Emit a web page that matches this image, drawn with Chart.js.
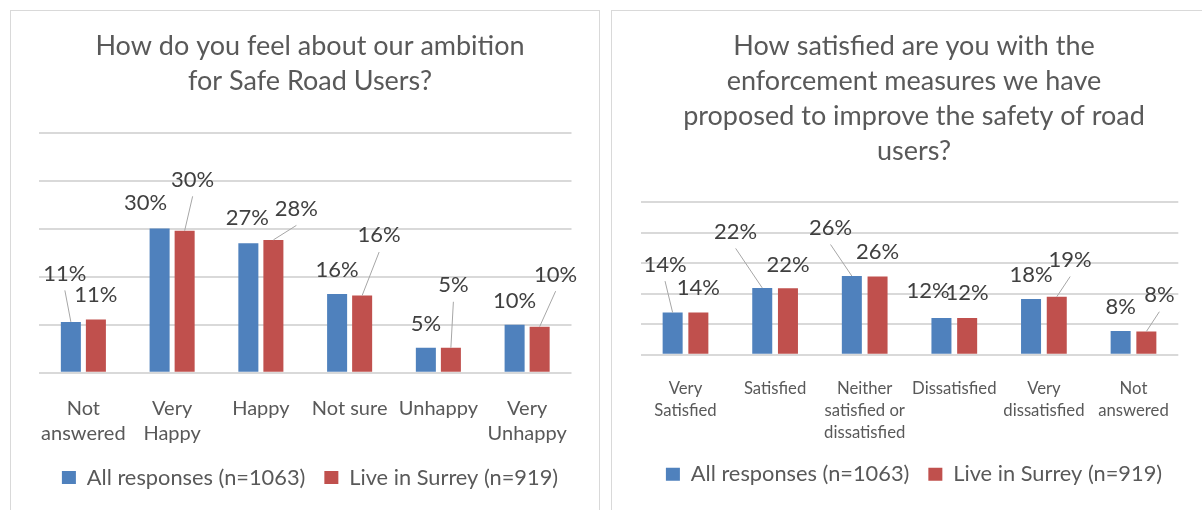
<!DOCTYPE html>
<html>
<head>
<meta charset="utf-8">
<script src="https://cdn.jsdelivr.net/npm/chart.js@4.4.1/dist/chart.umd.min.js"></script>
<style>
  html, body { margin: 0; padding: 0; background: #fff; overflow: hidden; width: 1202px; height: 510px; }
  .panel { position: absolute; top: 10px; border: 1px solid #d9d9d9; background: #fff; }
  #p1 { left: 10px; width: 588px; height: 540px; }
  #p2 { left: 611px; width: 600px; height: 540px; }
  canvas { position: absolute; left: 0; top: 0; }
</style>
</head>
<body>
<div class="panel" id="p1"><canvas id="c1" width="588" height="520"></canvas></div>
<div class="panel" id="p2"><canvas id="c2" width="590" height="520"></canvas></div>
<script>
var seriesNames = ['All responses (n=1063)', 'Live in Surrey (n=919)'];

var ambitionTitle = ['How do you feel about our ambition', 'for Safe Road Users?'];
var ambitionCats = [['Not', 'answered'], ['Very', 'Happy'], 'Happy', 'Not sure', 'Unhappy', ['Very', 'Unhappy']];
var ambitionAll = [10.6, 30.1, 27.0, 16.4, 5.2, 10.0];
var ambitionSurrey = [11.1, 29.6, 27.7, 16.1, 5.2, 9.6];

var enforceTitle = ['How satisfied are you with the', 'enforcement measures we have', 'proposed to improve the safety of road', 'users?'];
var enforceCats = [['Very', 'Satisfied'], 'Satisfied', ['Neither', 'satisfied or', 'dissatisfied'], 'Dissatisfied', ['Very', 'dissatisfied'], ['Not', 'answered']];
var enforceAll = [13.8, 21.9, 25.8, 12.0, 18.3, 7.8];
var enforceSurrey = [13.8, 21.8, 25.6, 12.0, 19.0, 7.6];

// where each value label sits relative to the top of its bar: dx, dy, leader line
var ambitionLabelPos = [
    [[-6, -49, 1], [-14, -26, 0], [-1, -26, 0], [0, -25, 0], [0, -25, 0], [0, -25, 0]],
    [[0, -25, 0], [8, -52, 1], [23, -32, 1], [17, -61, 1], [2.5, -63.5, 1], [16, -53, 1]]
];
var enforceLabelPos = [
    [[-7.6, -49, 1], [-26.6, -57, 1], [-21.3, -49, 1], [-13.3, -27.7, 0], [0, -25, 0], [0, -25.3, 0]],
    [[0, -25.7, 0], [0, -24.6, 0], [0, -25.7, 0], [0, -25.7, 0], [13.4, -37.7, 1], [13, -37.3, 1]]
];

var blue = '#4f81bd';
var red = '#c0504d';
var textColor = '#595959';

function valueLabels(placement) {
    return {
        id: 'valueLabels',
        afterDatasetsDraw: function (chart) {
            var ctx = chart.ctx;
            ctx.save();
            ctx.font = '22px Lato';
            ctx.textAlign = 'center';
            ctx.textBaseline = 'alphabetic';
            chart.data.datasets.forEach(function (ds, di) {
                var meta = chart.getDatasetMeta(di);
                meta.data.forEach(function (bar, i) {
                    var p = placement[di][i];
                    var lx = bar.x + p[0];
                    var ly = bar.y + p[1];
                    if (p[2]) {
                        ctx.strokeStyle = '#a6a6a6';
                        ctx.lineWidth = 1;
                        ctx.beginPath();
                        ctx.moveTo(lx, ly + 17.5);
                        ctx.lineTo(bar.x, bar.y);
                        ctx.stroke();
                    }
                    ctx.fillStyle = '#404040';
                    ctx.fillText(Math.round(ds.data[i]) + '%', lx, ly + 7.9);
                });
            });
            ctx.restore();
        }
    };
}

function makeChart(id, title, cats, all, surrey, placement, lay) {
    var ctx = document.getElementById(id).getContext('2d');
    return new Chart(ctx, {
        type: 'bar',
        data: {
            labels: cats,
            datasets: [{
                label: seriesNames[0],
                backgroundColor: blue,
                data: all,
                categoryPercentage: lay.catPct,
                barPercentage: lay.barPct
            }, {
                label: seriesNames[1],
                backgroundColor: red,
                data: surrey,
                categoryPercentage: lay.catPct,
                barPercentage: lay.barPct
            }]
        },
        options: {
            responsive: false,
            animation: false,
            devicePixelRatio: 1,
            layout: {
                padding: { left: lay.padLeft, right: 0, top: 0, bottom: lay.bottom }
            },
            scales: {
                x: {
                    grid: { display: false },
                    border: { display: false },
                    ticks: {
                        color: textColor,
                        font: { family: 'Lato', size: lay.tickSize, lineHeight: lay.tickLine + 'px' },
                        padding: lay.tickPad,
                        maxRotation: 0,
                        autoSkip: false
                    },
                    afterFit: function (scale) { scale.height = lay.axisHeight; }
                },
                y: {
                    min: 0,
                    max: 50,
                    ticks: { display: false, stepSize: 10 },
                    grid: { color: '#d9d9d9', lineWidth: 2, drawTicks: false },
                    border: { display: false },
                    afterFit: function (scale) { scale.width = lay.left - lay.padLeft; }
                },
                yRight: {
                    position: 'right',
                    min: 0,
                    max: 50,
                    ticks: { display: false },
                    grid: { display: false, drawTicks: false },
                    border: { display: false },
                    afterFit: function (scale) { scale.width = lay.right; }
                }
            },
            plugins: {
                tooltip: { enabled: false },
                title: {
                    display: true,
                    text: title,
                    color: textColor,
                    font: { family: 'Lato', size: 27, weight: 'normal', lineHeight: '35px' },
                    padding: { top: 17.8, bottom: lay.titleBottom }
                },
                legend: {
                    position: 'bottom',
                    labels: {
                        color: textColor,
                        font: { family: 'Lato', size: 21.8 },
                        boxWidth: 14,
                        boxHeight: 13,
                        padding: 19
                    }
                }
            }
        },
        plugins: [valueLabels(placement)]
    });
}

makeChart('c1', ambitionTitle, ambitionCats, ambitionAll, ambitionSurrey, ambitionLabelPos, {
    left: 28, right: 27.5, padLeft: 10, bottom: 32.5, titleBottom: 34.2,
    catPct: 0.564, barPct: 0.8,
    tickSize: 20, tickLine: 25, tickPad: 15.4, axisHeight: 75
});

makeChart('c2', enforceTitle, enforceCats, enforceAll, enforceSurrey, enforceLabelPos, {
    left: 28.7, right: 23.7, padLeft: 14, bottom: 35.8, titleBottom: 33.4,
    catPct: 0.574, barPct: 0.778,
    tickSize: 16.7, tickLine: 22, tickPad: 14.5, axisHeight: 89.7
});
</script>
</body>
</html>
